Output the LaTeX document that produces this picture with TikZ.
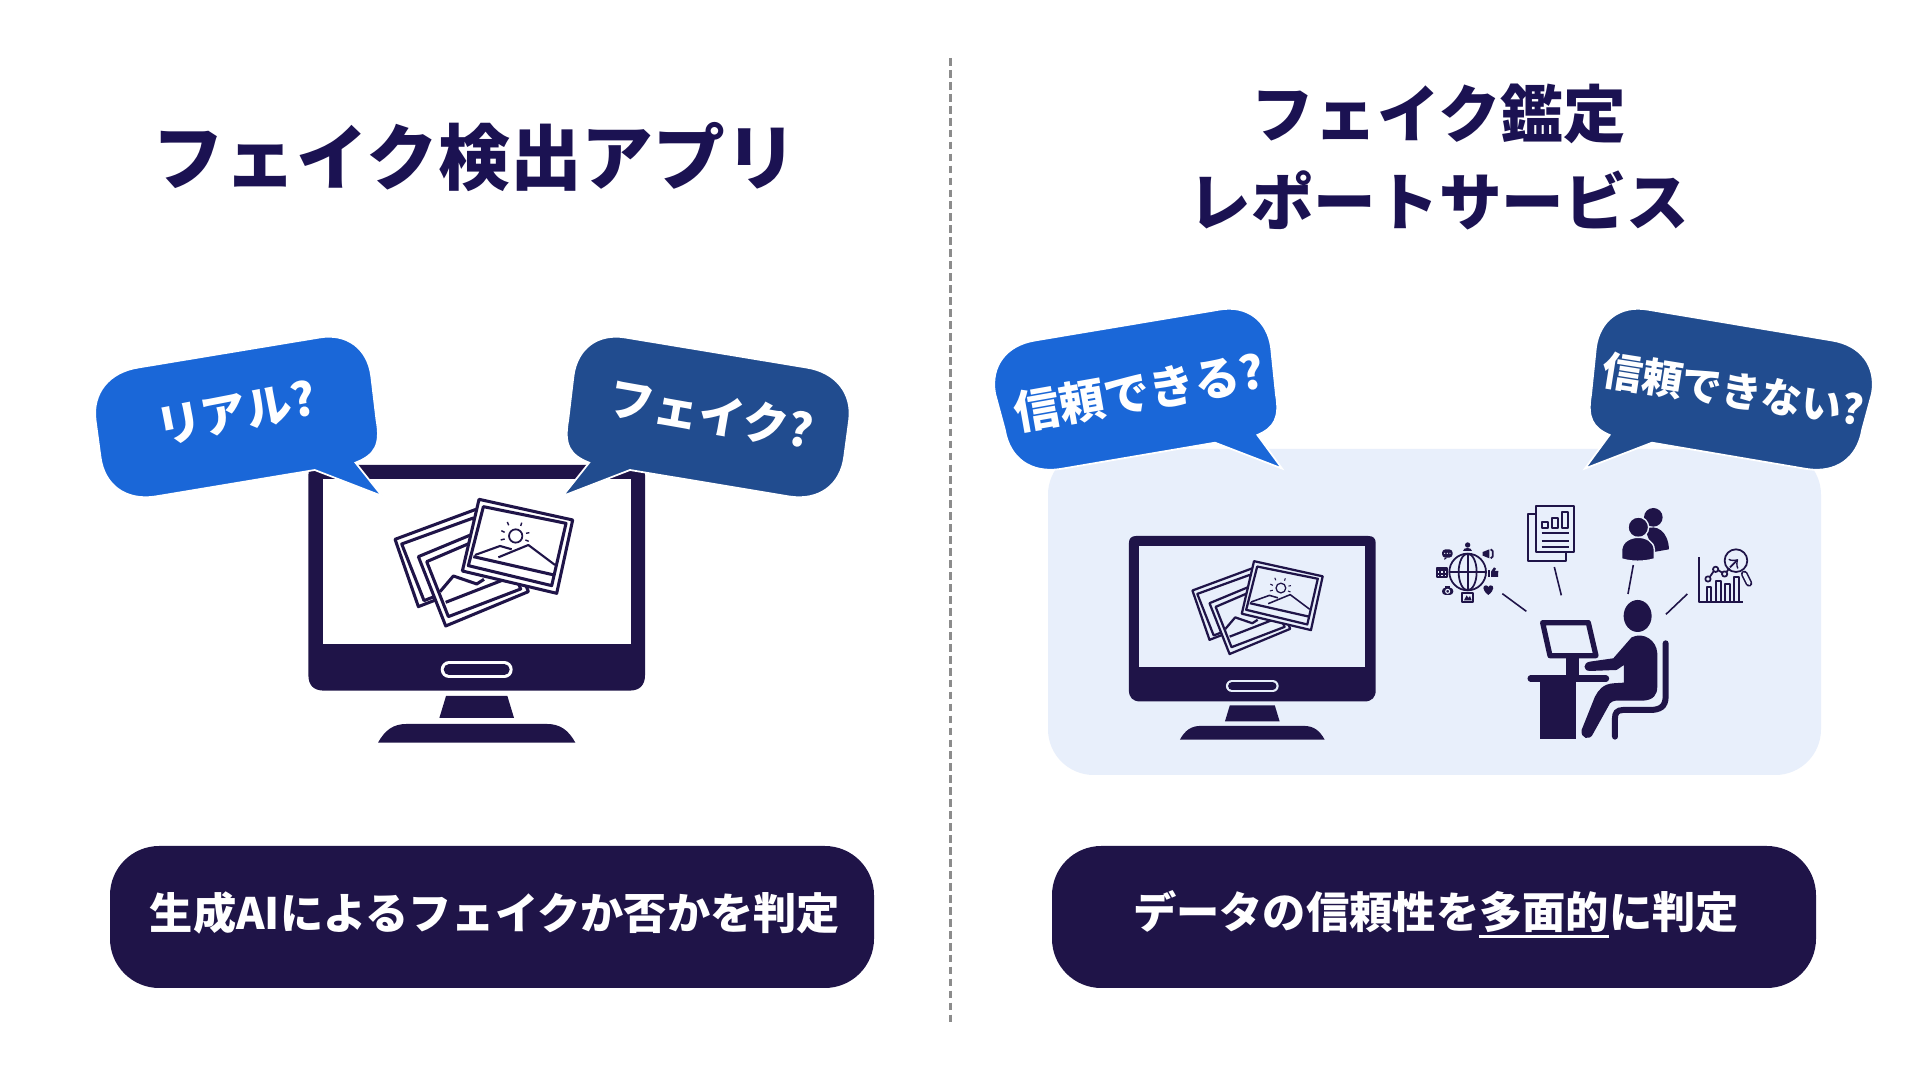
\documentclass[tikz,border=0pt]{standalone}
\usepackage{fontspec}
\setmainfont{Noto Sans CJK JP}
\definecolor{navy}{HTML}{1F1448}
\definecolor{titleblue}{HTML}{1B1252}
\definecolor{brightblue}{HTML}{1A67D8}
\definecolor{deepblue}{HTML}{214C8F}
\definecolor{panelblue}{HTML}{E8EFFB}
\definecolor{dashgray}{HTML}{8C8C8C}
\tikzset{
	title/.style={text=titleblue, font=\bfseries\fontsize{#1}{25}\selectfont, align=center},
	bubble/.style={fill=#1, draw=white, line width=0.5pt, line join=miter},
	bubbletext/.style={text=white, font=\bfseries\fontsize{#1}{#1}\selectfont, inner sep=0pt},
	pill/.style={fill=navy, rounded corners=14pt},
	pilltext/.style={text=white, font=\bfseries\fontsize{12.3}{15}\selectfont, inner sep=0pt},
	icon/.style={draw=navy, line width=0.5pt, line join=round},
	ray/.style={draw=navy, line width=0.45pt},
}
% #1,#2 top centre of the case, #3 scale, #4 colour of the screen
\newcommand{\monitorpic}[4]{
	\begin{scope}[shift={(#1,#2)}, scale=#3, shift={(-590,-75)}]
		\fill[navy] (85,105) .. controls (85,85) and (95,75) .. (115,75) -- (1065,75) .. controls (1085,75) and (1095,85) .. (1095,105) -- (1095,705) .. controls (1095,735) and (1080,752) .. (1048,752) -- (132,752) .. controls (100,752) and (85,735) .. (85,705) -- cycle;
		\fill[#4] (128,118) rectangle (1052,612);
		\draw[#4, line cap=round, line width=#3*14.2pt] (507,689) -- (673,689);
		\draw[navy, line cap=round, line width=#3*9.1pt] (507,689) -- (673,689);
		\fill[navy] (498,768) -- (682,768) -- (702,834) -- (478,834) -- cycle;
		\fill[navy] (294,908) .. controls (315,870) and (340,852) .. (380,852) -- (800,852) .. controls (840,852) and (865,870) .. (886,908) -- cycle;
		\begin{scope}[draw=navy, line join=round, line width=#3*2.6pt]
			% back photo
			\draw[fill=#4] (345,298) -- (588,208) -- (660,405) -- (415,500) -- cycle;
			\draw (365,312) -- (580,234) -- (640,400) -- (432,482) -- cycle;
			% middle photo
			\draw[fill=#4] (415,350) -- (663,247) -- (745,455) -- (497,558) -- cycle;
			\draw (440,365) -- (650,275) -- (722,447) -- (505,530) -- cycle;
			\draw (497,487) -- (700,408);
			\draw (480,455) -- (520,408) -- (590,432) -- (612,418);
			% front photo
			\draw[fill=#4] (597,178) -- (878,240) -- (830,460) -- (547,393) -- cycle;
			\draw (610,200) -- (858,250) -- (815,437) -- (565,377) -- cycle;
			\draw (580,350) -- (822,405);
			\draw[line width=#3*1.8pt] (585,345) -- (660,318) -- (695,328);
			\draw[line width=#3*1.8pt] (655,352) -- (745,315) -- (825,375);
			\draw[line width=#3*1.5pt] (707,288) circle [radius=20];
			\draw[line width=#3*1.2pt] (682,246) -- (686,256) (725,248) -- (722,258) (748,278) -- (738,280) (746,304) -- (736,300) (664,272) -- (674,277) (662,300) -- (674,297);
		\end{scope}
	\end{scope}
}
\begin{document}
\begin{tikzpicture}[x=0.01cm, y=-0.01cm]
	%\draw[help lines] (0,0) grid (1920,1080);
	\useasboundingbox (0,0) rectangle (1920,1080);
	\fill[white] (0,0) rectangle (1920,1080);

	\draw[dashgray, line width=0.85pt, dash pattern=on 2.2pt off 1.2pt] (950,58)--(950,1022);

	\node[title=20.4] (leftTitle) at (475,157) {フェイク検出アプリ};
	\node[title=17.8] (rightTitle) at (1439,157) {フェイク鑑定\\レポートサービス};

	\monitorpic{476.7}{465}{0.3333}{white}

	% bubbles on the left
	\draw[bubble=brightblue] (95.6,420.6) .. controls (91.9,393.2) and (109,372) .. (138.4,367.5) -- (319.6,337.5) .. controls (346.8,333) and (367.5,348.2) .. (371.2,375.6) -- (376.5,420) .. controls (381,445) and (375,455) .. (355.5,462.7) -- (382,496) -- (314.7,470) -- (155.4,496.5) .. controls (126,501) and (104,485.5) .. (100.4,456.4) -- cycle;
	\node[bubbletext=13, rotate=11] (realText) at (236,413) {リアル?};
	\draw[bubble=deepblue] (849.1,420.6) .. controls (852.8,393.2) and (835.7,372) .. (806.3,367.5) -- (625.1,337.5) .. controls (597.9,333) and (577.2,348.2) .. (573.5,375.6) -- (568.2,420) .. controls (563.7,445) and (569.7,455) .. (589.2,462.7) -- (562.7,496) -- (630,470) -- (789.3,496.5) .. controls (818.7,501) and (840.7,485.5) .. (844.3,456.4) -- cycle;
	\node[bubbletext=13, rotate=-10] (fakeText) at (711,414) {フェイク?};

	\fill[panelblue, rounded corners=13pt] (1048,449) rectangle (1821,775);

	\monitorpic{1252.3}{536}{0.2444}{panelblue}

	% worker and the four sources
	\begin{scope}[shift={(1400,490)}, scale=0.3333]
		\draw[ray] (307,311)--(379,364);
		\draw[ray] (463,231)--(484,316);
		\draw[ray] (700,225)--(684,312);
		\draw[ray] (862,312)--(798,373);

		\fill[navy] (713,378) circle [x radius=42, y radius=48];
		\fill[navy] (772,490) .. controls (770,450) and (730,425) .. (695,442) -- (640,505) -- (570,515) .. controls (548,518) and (548,543) .. (570,543) -- (650,540) -- (672,525) -- (672,578) -- (640,580) .. controls (610,582) and (595,600) .. (585,620) -- (545,720) .. controls (540,745) and (570,755) .. (580,730) -- (630,640) .. controls (640,630) and (650,632) .. (670,632) -- (730,632) .. controls (760,630) and (772,615) .. (772,590) -- cycle;
		\draw[navy, line width=1.7pt, line cap=round] (797,460) -- (797,620) .. controls (797,650) and (780,660) .. (750,660) -- (670,660) .. controls (650,660) and (645,670) .. (645,685) -- (645,740);
		\draw[navy, line width=1.5pt, line join=round] (428,398) -- (565,398) -- (588,497) -- (450,497) -- cycle;
		\fill[navy] (498,500) rectangle (538,560);
		\draw[navy, line width=1.8pt, line cap=round] (392,566) -- (618,566);
		\fill[navy] (420,566) rectangle (527,748);

		% report
		\draw[icon, fill=panelblue] (385,72) rectangle (498,212);
		\draw[icon, fill=panelblue] (408,48) rectangle (523,187);
		\draw[icon] (427,97) rectangle (445,115);
		\draw[icon] (457,85) rectangle (475,115);
		\draw[icon] (487,65) rectangle (505,115);
		\draw[icon] (425,130)--(508,130) (425,152)--(508,152) (425,170)--(508,170);

		% people
		\fill[navy] (760,82) circle [radius=28];
		\fill[navy] (735,118) .. controls (770,100) and (805,125) .. (807,178) -- (762,186) -- cycle;
		\draw[panelblue, fill=navy, line width=0.4pt] (715,112) circle [radius=31];
		\draw[panelblue, fill=navy, line width=0.4pt] (665,207) -- (665,178) .. controls (670,130) and (760,130) .. (763,178) -- (763,207) .. controls (730,216) and (695,216) .. (665,207) -- cycle;

		% chart
		\draw[icon] (898,202) -- (898,335) -- (1028,335);
		\draw[icon] (920,335) -- (920,292) -- (934,292) -- (934,335);
		\draw[icon] (947,335) -- (947,272) -- (962,272) -- (962,335);
		\draw[icon] (974,335) -- (974,283) -- (989,283) -- (989,335);
		\draw[icon] (1001,335) -- (1001,260) -- (1016,260) -- (1016,335);
		\draw[icon] (930,260) -- (941,244) (955,241) -- (967,248) (980,246) -- (988,234);
		\draw[icon] (924,267) circle [radius=8];
		\draw[icon] (947,238) circle [radius=8];
		\draw[icon] (974,252) circle [radius=8];
		\draw[icon] (1008,212) circle [radius=34];
		\draw[icon, ->] (990,232) -- (1014,208);
		\draw[navy, line width=1.9pt, line cap=round] (1033,252) -- (1047,280);
		\draw[panelblue, line width=1.0pt, line cap=round] (1033,252) -- (1047,280);

		% globe
		\draw[icon] (203,246) circle [radius=55];
		\draw[icon] (203,246) circle [x radius=27, y radius=55];
		\draw[icon] (203,191) -- (203,301) (148,246) -- (258,246);
		\fill[navy] (203,165) circle [radius=8];
		\fill[navy] (190,184) .. controls (190,170) and (216,170) .. (216,184) -- cycle;
		\fill[navy, rounded corners=1pt] (126,178) rectangle (158,203);
		\fill[navy] (133,203) -- (133,210) -- (142,203) -- cycle;
		\fill[panelblue] (134,190) circle [radius=2] (142,190) circle [radius=2] (150,190) circle [radius=2];
		\fill[navy] (248,186) -- (268,178) -- (268,205) -- (248,197) -- cycle;
		\draw[icon] (272,178) -- (278,183) -- (278,200) -- (272,205);
		\draw[icon] (112,233) rectangle (140,260) (112,241)--(140,241) (112,251)--(140,251) (121,233)--(121,260) (131,233)--(131,260);
		\fill[navy] (265,240) rectangle (270,260);
		\fill[navy] (273,245) -- (282,232) -- (288,236) -- (284,243) -- (295,243) -- (294,261) -- (273,261) -- cycle;
		\fill[navy] (265,315) .. controls (245,300) and (248,286) .. (258,286) .. controls (262,286) and (265,290) .. (265,292) .. controls (265,290) and (268,286) .. (272,286) .. controls (282,286) and (285,300) .. (265,315) -- cycle;
		\fill[navy, rounded corners=1pt] (126,293) rectangle (160,315);
		\fill[navy] (136,293) rectangle (150,288);
		\draw[panelblue, line width=0.3pt] (143,304) circle [radius=6];
		\draw[icon] (186,310) rectangle (220,337);
		\fill[navy] (192,331) -- (200,316) -- (205,324) -- (210,318) -- (215,331) -- cycle;
	\end{scope}

	% bubbles on the right
	\draw[bubble=brightblue] (995,393.4) .. controls (990.4,366.1) and (1006,345) .. (1035.4,340.4) -- (1219.6,309.6) .. controls (1246.9,305) and (1267.4,320.2) .. (1271.1,347.6) -- (1276,395) .. controls (1280,418) and (1274,428) .. (1257.4,435) -- (1282,468.5) -- (1215,442.7) -- (1060.4,469) .. controls (1031,473.5) and (1009.5,458.5) .. (1004.8,429.6) -- cycle;
	\node[bubbletext=13, rotate=10] (trustText) at (1139,392) {信頼できる?};
	\draw[bubble=deepblue] (1872,393.4) .. controls (1876.6,366.1) and (1861,345) .. (1831.6,340.4) -- (1647.4,309.6) .. controls (1620.1,305) and (1599.6,320.2) .. (1595.9,347.6) -- (1591,395) .. controls (1587,418) and (1593,428) .. (1609.6,435) -- (1585,468.5) -- (1652,442.7) -- (1806.6,469) .. controls (1836,473.5) and (1857.5,458.5) .. (1862.2,429.6) -- cycle;
	\node[bubbletext=11.5, rotate=-9] (distrustText) at (1733,390) {信頼できない?};

	\fill[pill] (110,846) rectangle (874,988);
	\node[pilltext] (leftCaption) at (495,913) {生成AIによるフェイクか否かを判定};
	\fill[pill] (1052,846) rectangle (1816,988);
	\node[pilltext] (rightCaption) at (1436,914) {データの信頼性を\rlap{\rule[-2.6pt]{3em}{0.7pt}}多面的に判定};
\end{tikzpicture}
\end{document}
